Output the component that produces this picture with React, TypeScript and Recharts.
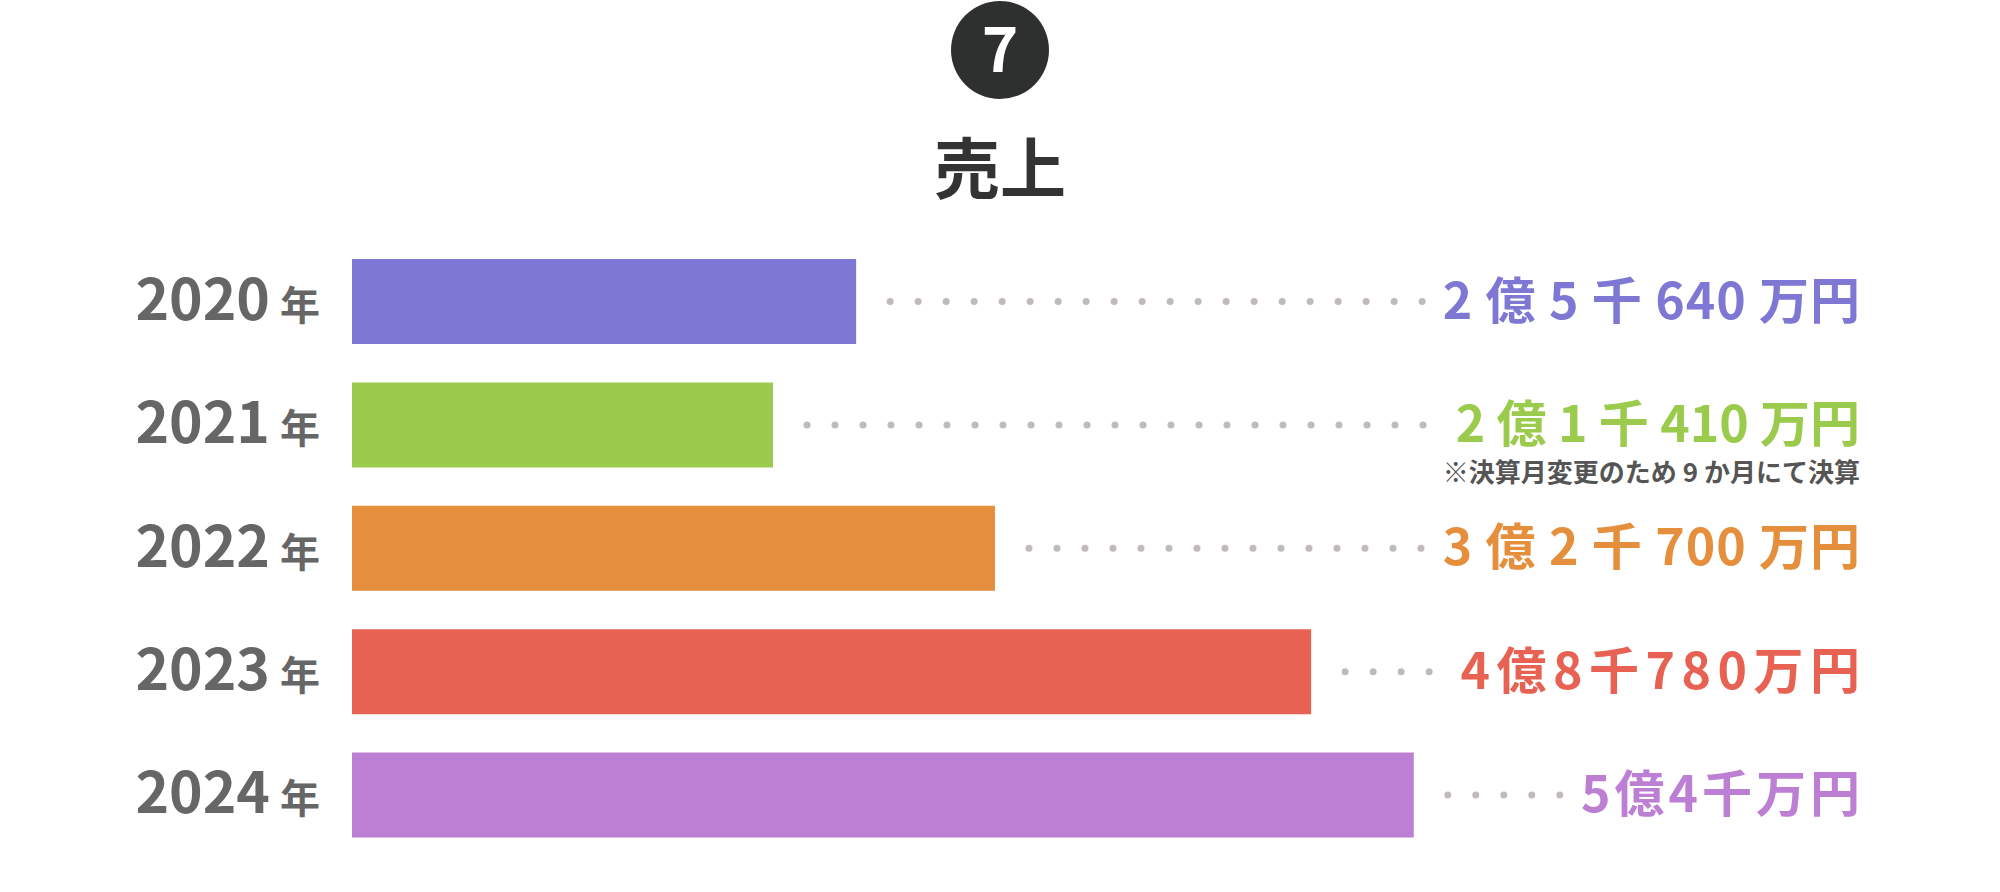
import { BarChart, Bar, XAxis, YAxis, Cell } from 'recharts';

const years = ['2020', '2021', '2022', '2023', '2024'];
// 売上（万円）
const sales = [25640, 21410, 32700, 48780, 54000];
const salesLabels = ['2 億 5 千 640 万円', '2 億 1 千 410 万円', '3 億 2 千 700 万円', '4億8千780万円', '5億4千万円'];
const notes = ['', '※決算月変更のため 9 か月にて決算', '', '', ''];

const data = years.map((year, i) => ({ year, sales: sales[i] }));

const barColors = ['#7E77D4', '#9BCB4C', '#E58E3C', '#E76252', '#BD7FD3'];
const FONT = '"Noto Sans CJK JP", "Noto Sans", sans-serif';
const LABEL_RIGHT = 1860;
const LABEL_SIZE = 50;
const labelSpacing = [1, 0, 1, 6.5, 4];

let ctx: CanvasRenderingContext2D | null = null;
function measure(text: string, size: number, spacing: number) {
  if (!ctx) ctx = document.createElement('canvas').getContext('2d');
  if (!ctx) return text.length * size * 0.7;
  ctx.font = `700 ${size}px ${FONT}`;
  return ctx.measureText(text).width + spacing * text.length;
}

function YearTick(props: any) {
  const { y, payload } = props;
  return (
    <text x={320} y={y} dy={18} textAnchor="end" fill="#666666" fontFamily={FONT} fontWeight={700}>
      <tspan fontSize={57}>{payload.value}</tspan>
      <tspan fontSize={40} dx={10}>年</tspan>
    </text>
  );
}

function ValueLabel(props: any) {
  const { x, y, width, height, index } = props;
  const cy = y + height / 2;
  const text = salesLabels[index];
  const ls = labelSpacing[index];
  const textW = measure(text, LABEL_SIZE, ls);
  const start = x + width + 34;
  const end = LABEL_RIGHT - textW - 16;
  const dots = [];
  for (let dx = start; dx <= end; dx += 28) {
    dots.push(<circle key={dx} cx={dx} cy={cy} r={3.5} fill="#C0BABA" />);
  }
  return (
    <g>
      {dots}
      <text
        x={LABEL_RIGHT + ls}
        y={cy}
        dy={17}
        textAnchor="end"
        fill={barColors[index]}
        fontFamily={FONT}
        fontWeight={700}
        fontSize={LABEL_SIZE}
        letterSpacing={ls}
      >
        {text}
      </text>
      {notes[index] && (
        <text x={LABEL_RIGHT} y={cy + 57} textAnchor="end" fill="#555555" fontFamily={FONT} fontWeight={700} fontSize={26}>
          {notes[index]}
        </text>
      )}
    </g>
  );
}

export default function App() {
  return (
    <div style={{ position: 'relative', width: 2000, height: 892, background: '#ffffff' }}>
      <style>{'body{margin:0}'}</style>
      <svg width={2000} height={230} style={{ position: 'absolute', left: 0, top: 0 }}>
        <circle cx={1000} cy={50} r={49} fill="#2E302F" />
        <text x={1000} y={50} dy={22} textAnchor="middle" fill="#ffffff" fontFamily={FONT} fontWeight={700} fontSize={62}>7</text>
        <text x={1000} y={170} dy={23} textAnchor="middle" fill="#333333" fontFamily={FONT} fontWeight={700} fontSize={66}>売上</text>
      </svg>
      <div style={{ position: 'absolute', left: 0, top: 0 }}>
        <BarChart
          width={2000}
          height={892}
          data={data}
          layout="vertical"
          margin={{ top: 240, right: 75, bottom: 35, left: 0 }}
        >
          <XAxis type="number" domain={[0, 80000]} hide />
          <YAxis type="category" dataKey="year" width={352} axisLine={false} tickLine={false} tick={<YearTick />} />
          <Bar dataKey="sales" barSize={85} isAnimationActive={false} label={<ValueLabel />}>
            {data.map((d, i) => (
              <Cell key={d.year} fill={barColors[i]} />
            ))}
          </Bar>
        </BarChart>
      </div>
    </div>
  );
}
